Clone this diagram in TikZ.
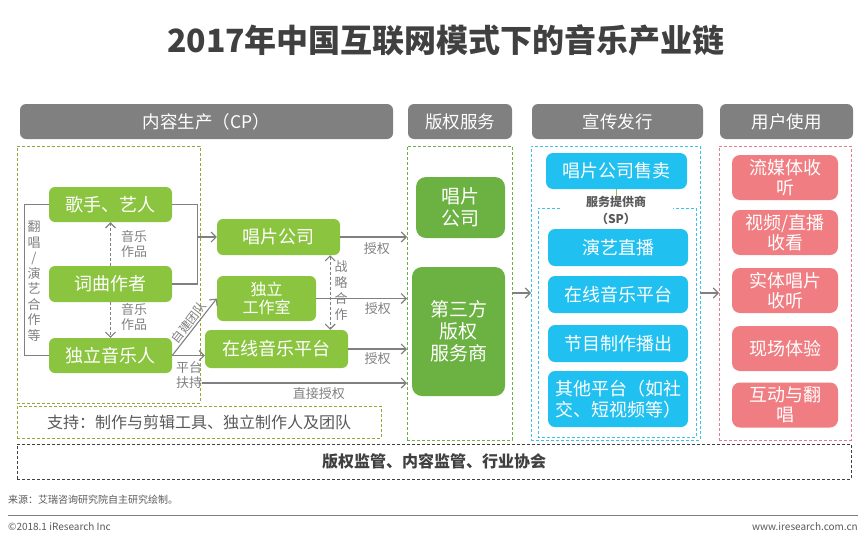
\documentclass[tikz,border=0pt]{standalone}
\usepackage{fontspec}
\setmainfont{Noto Sans CJK SC}
\usetikzlibrary{arrows.meta}
\definecolor{hdrgrey}{RGB}{128,128,128}
\definecolor{cpgreen}{RGB}{139,197,64}
\definecolor{crgreen}{RGB}{108,178,66}
\definecolor{spcyan}{RGB}{32,192,240}
\definecolor{uspink}{RGB}{240,125,130}
\definecolor{linegrey}{RGB}{128,128,128}
\definecolor{olive}{RGB}{150,165,60}
\definecolor{zonegreen}{RGB}{110,175,70}
\definecolor{zonecyan}{RGB}{60,195,230}
\definecolor{zonepink}{RGB}{225,125,140}
\definecolor{titlegrey}{RGB}{64,64,64}
\definecolor{textgrey}{RGB}{89,89,89}
\tikzset{
	header/.style={fill=hdrgrey, rounded corners=6pt, text=white, font=\fontsize{17.5}{20}\selectfont, minimum height=35pt, inner sep=0pt},
	cpbox/.style={fill=cpgreen, rounded corners=6pt, text=white, font=\fontsize{18}{21}\selectfont, align=center, inner sep=0pt},
	crbox/.style={cpbox, fill=crgreen, rounded corners=10pt, font=\fontsize{19}{22}\selectfont},
	spbox/.style={cpbox, fill=spcyan, minimum width=140pt, minimum height=37pt, rounded corners=7pt},
	usbox/.style={cpbox, fill=uspink, minimum width=106pt, minimum height=45pt, rounded corners=8pt, font=\fontsize{18}{20}\selectfont},
	zone/.style={draw, line width=0.8pt, dash pattern=on 3pt off 2pt, inner sep=0pt, outer sep=0pt},
	conn/.style={draw=linegrey, line width=1.1pt},
	arr/.style={conn, -{Straight Barb[length=5pt,width=10pt]}},
	darr/.style={arr, dash pattern=on 3pt off 2pt},
	lbl/.style={text=linegrey, font=\fontsize{13}{15.5}\selectfont, align=center, inner sep=0pt}
}
\begin{document}
\begin{tikzpicture}[x=1pt,y=-1pt]
	% page: 866 x 536
	\useasboundingbox (0,0) rectangle (866,536);
	\node[font=\fontsize{32}{34}\selectfont\bfseries, text=titlegrey] (title) at (446,40) {2017年中国互联网模式下的音乐产业链};
	
	% column headers
	\node[header, minimum width=373pt] (hcp) at (206.5,121.5) {内容生产（CP）};
	\node[header, minimum width=104pt] (hcr) at (460,121.5) {版权服务};
	\node[header, minimum width=171pt] (hsp) at (617.5,121.5) {宣传发行};
	\node[header, minimum width=133pt] (hus) at (786.5,121.5) {用户使用};
	
	% dashed zones
	\node[zone, draw=olive, minimum width=183pt, minimum height=257pt] (cpzone) at (108.5,274.5) {};
	\node[zone, draw=olive, minimum width=364pt, minimum height=32pt, text=textgrey, font=\fontsize{16}{18}\selectfont] (support) at (199,422) {支持：制作与剪辑工具、独立制作人及团队};
	\node[zone, draw=zonegreen, minimum width=105pt, minimum height=294pt] (crzone) at (459.5,293) {};
	\node[zone, draw=zonecyan, minimum width=169pt, minimum height=294pt] (spzone) at (615.5,293) {};
	\node[zone, draw=zonepink, minimum width=132pt, minimum height=294pt] (uszone) at (785,293) {};
	\node[zone, draw=black!75, minimum width=834pt, minimum height=35pt, text=titlegrey, font=\fontsize{16}{18}\selectfont\bfseries] (regulate) at (434,461.5) {版权监管、内容监管、行业协会};
	
	% content production
	\node[cpbox, minimum width=123pt, minimum height=35pt] (singer) at (110.5,204.5) {歌手、艺人};
	\node[cpbox, minimum width=123pt, minimum height=36pt] (writer) at (110.5,284) {词曲作者};
	\node[cpbox, minimum width=123pt, minimum height=35pt] (indie) at (110.5,355.5) {独立音乐人};
	\node[cpbox, minimum width=123pt, minimum height=36pt] (label) at (278.5,237) {唱片公司};
	\node[cpbox, minimum width=99pt, minimum height=45pt, font=\fontsize{16}{18}\selectfont] (studio) at (266.5,298.5) {独立\\工作室};
	\node[cpbox, minimum width=143pt, minimum height=38pt] (online) at (276.5,349) {在线音乐平台};
	
	\draw[conn] (singer.west) -- ++(-24,0) |- (indie.west);
	\node[lbl] (cover) at (34,281) {翻\\唱\\/\\演\\艺\\合\\作\\等};
	\draw[conn] (singer.east) -- ++(25,0) |- (writer.east);
	\coordinate (join) at (197,237);
	\draw[arr] (join) -- (label.west);
	\draw[darr] (writer.north) -- (singer.south);
	\node[lbl] (works1) at (134,244) {音乐\\作品};
	\draw[darr] (writer.south) -- (indie.north);
	\node[lbl] (works2) at (134,317) {音乐\\作品};
	
	\draw[arr] (indie.east) -- node[lbl, sloped, above=1pt, font=\fontsize{12}{14}\selectfont] {自建团队} (studio.west);
	\draw[arr] (indie.east) -- (indie.east -| online.west);
	\node[lbl] (backing) at (189,375) {平台\\扶持};
	\draw[arr] ([yshift=-8pt]backing.east) -- ([yshift=-8pt]backing.east -| crzone.west) node[lbl, pos=0.57, below=4pt] {直接授权};
	\draw[darr, {Straight Barb[length=5pt,width=10pt]}-{Straight Barb[length=5pt,width=10pt]}] ([xshift=-10pt]label.south east) -- ([xshift=-10pt]label.south east |- online.north);
	\node[lbl, font=\fontsize{13}{16}\selectfont] (coop) at (341,291) {战\\略\\合\\作};
	
	\draw[arr] (label.east) -- (label.east -| crzone.west) node[lbl, pos=0.55, below=5pt] {授权};
	\draw[arr] (studio.east) -- (studio.east -| crzone.west) node[lbl, pos=0.68, below=4pt] {授权};
	\draw[arr] (online.east) -- (online.east -| crzone.west) node[lbl, pos=0.5, below=3pt] {授权};
	
	% copyright service
	\node[crbox, minimum width=89pt, minimum height=61pt] (crlabel) at (460.5,207.5) {唱片\\公司};
	\node[crbox, minimum width=93pt, minimum height=129pt] (third) at (458.5,331.5) {第三方\\版权\\服务商};
	\draw[arr] (crzone.east) -- (spzone.west);
	
	% publicity and release
	\node[spbox, minimum width=141pt, minimum height=36pt] (sale) at (616.5,171) {唱片公司售卖};
	\draw[cpgreen, thin] (sale.south) -- ++(0,7);
	\node[font=\fontsize{12}{17}\selectfont\bfseries, text=textgrey, align=center] (sptitle) at (616,210) {服务提供商\\（SP）};
	\draw[zone, draw=zonecyan] (560,208) -| (538,437) -| (696,208) -- (673,208);
	\node[spbox] (live) at (618,247.5) {演艺直播};
	\node[spbox] (spmusic) at (618,294.5) {在线音乐平台};
	\node[spbox] (program) at (618,343.5) {节目制作播出};
	\node[spbox, minimum height=56pt, align=left] (other) at (618,399) {其他平台（如社\\交、短视频等）};
	\draw[arr] (spzone.east) -- (uszone.west);
	
	% user usage
	\node[usbox] (stream) at (785,177.5) {流媒体收\\听};
	\node[usbox] (video) at (785,232.5) {视频/直播\\收看};
	\node[usbox] (physical) at (785,290.5) {实体唱片\\收听};
	\node[usbox] (liveshow) at (785,348.5) {现场体验};
	\node[usbox] (interact) at (785,405) {互动与翻\\唱};
	
	% footer
	\node[anchor=west, text=textgrey, font=\fontsize{10}{12}\selectfont, inner sep=0pt] (source) at (8,500) {来源：艾瑞咨询研究院自主研究绘制。};
	\draw[linegrey, line width=0.8pt] (8,515) -- (858,515);
	\node[anchor=west, text=textgrey, font=\fontsize{10}{12}\selectfont, inner sep=0pt] (copyright) at (8,527) {©2018.1 iResearch Inc};
	\node[anchor=east, text=textgrey, font=\fontsize{10}{12}\selectfont, inner sep=0pt] (website) at (858,527) {www.iresearch.com.cn};
\end{tikzpicture}
\end{document}
